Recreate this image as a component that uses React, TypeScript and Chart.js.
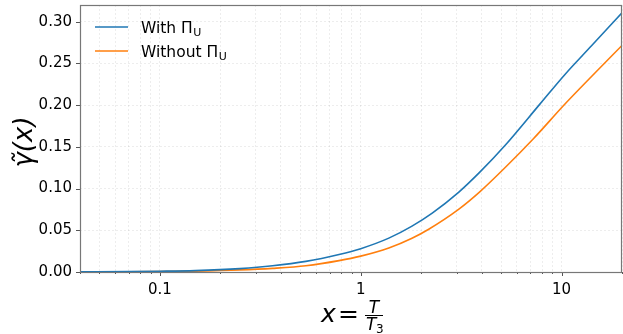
import React, { useEffect, useRef } from "react";
import { Chart, registerables } from "chart.js";

Chart.register(...registerables);

const xWith = [0.04, 0.07, 0.1, 0.15, 0.25, 0.364, 0.533, 0.78, 1.0, 1.38, 1.8, 2.27, 3.07, 3.94, 5.24, 7.8, 10.4, 14.1, 20];
const yWith = [0.0002, 0.0005, 0.0009, 0.0017, 0.0041, 0.0074, 0.0127, 0.021, 0.028, 0.0406, 0.055, 0.0706, 0.0955, 0.1203, 0.1519, 0.2012, 0.2368, 0.2711, 0.3106];
const xWithout = [0.04, 0.07, 0.1, 0.15, 0.25, 0.364, 0.533, 0.78, 1.0, 1.38, 1.8, 2.18, 3.07, 3.94, 5.24, 7.26, 10.4, 14.1, 20];
const yWithout = [0.0001, 0.00025, 0.0005, 0.0011, 0.0025, 0.0044, 0.0075, 0.0136, 0.019, 0.0288, 0.0405, 0.0513, 0.0751, 0.0967, 0.1252, 0.16, 0.2013, 0.2343, 0.2715];

const seriesNames = ["With Π", "Without Π"];
const seriesSub = "U";
const seriesColors = ["#1f77b4", "#ff7f0e"];

const xMin = 0.04;
const xMax = 20;
const xLabeled = [0.1, 1, 10];
const yTicks = [0, 0.05, 0.1, 0.15, 0.2, 0.25, 0.3];
const yMin = 0;
const yMax = 0.32;

const FONT = "'DejaVu Sans', sans-serif";

function buildLogTicks(): number[] {
  const out: number[] = [];
  for (let e = -2; e <= 1; e++) {
    for (let k = 1; k <= 9; k++) {
      const v = parseFloat((k * Math.pow(10, e)).toPrecision(6));
      if (v >= xMin - 1e-9 && v <= xMax + 1e-9) out.push(v);
    }
  }
  return out;
}

const isMajor = (v: number) => xLabeled.some((m) => Math.abs(m - v) < 1e-9);

const decor = {
  id: "decor",
  afterDraw(chart: any) {
    const { ctx, chartArea: a, scales } = chart;
    const xs = scales.x;
    const ys = scales.y;
    ctx.save();
    // tick marks
    ctx.strokeStyle = "#555";
    ctx.lineWidth = 1;
    xs.ticks.forEach((t: any) => {
      const px = Math.round(xs.getPixelForValue(t.value)) + 0.5;
      const len = isMajor(t.value) ? 4 : 2;
      ctx.beginPath();
      ctx.moveTo(px, a.bottom);
      ctx.lineTo(px, a.bottom + len);
      ctx.stroke();
    });
    ys.ticks.forEach((t: any) => {
      const py = Math.round(ys.getPixelForValue(t.value)) + 0.5;
      ctx.beginPath();
      ctx.moveTo(a.left - 4, py);
      ctx.lineTo(a.left, py);
      ctx.stroke();
    });
    // spines
    ctx.strokeStyle = "#777";
    ctx.lineWidth = 1.2;
    ctx.strokeRect(Math.round(a.left) + 0.5, Math.round(a.top) + 0.5, Math.round(a.right - a.left) - 1, Math.round(a.bottom - a.top));

    // legend
    const rows = [27, 51];
    rows.forEach((ry, i) => {
      ctx.strokeStyle = seriesColors[i];
      ctx.lineWidth = 1.6;
      ctx.beginPath();
      ctx.moveTo(a.left + 15, ry);
      ctx.lineTo(a.left + 48, ry);
      ctx.stroke();
      ctx.fillStyle = "#000";
      ctx.font = `15.5px ${FONT}`;
      ctx.textBaseline = "alphabetic";
      ctx.textAlign = "left";
      const tx = a.left + 61;
      ctx.fillText(seriesNames[i], tx, ry + 6);
      const w = ctx.measureText(seriesNames[i]).width;
      ctx.font = `11px ${FONT}`;
      ctx.fillText(seriesSub, tx + w + 0.5, ry + 9);
    });

    // x title: x = T / T3
    ctx.fillStyle = "#000";
    ctx.textBaseline = "alphabetic";
    ctx.textAlign = "left";
    ctx.font = `italic 25px ${FONT}`;
    ctx.fillText("x", 321, 322);
    ctx.font = `25px ${FONT}`;
    ctx.fillText("=", 338, 322);
    ctx.strokeStyle = "#000";
    ctx.lineWidth = 1;
    ctx.beginPath();
    ctx.moveTo(365, 315.5);
    ctx.lineTo(383, 315.5);
    ctx.stroke();
    ctx.font = `italic 17px ${FONT}`;
    ctx.textAlign = "center";
    ctx.fillText("T", 374, 313);
    ctx.textAlign = "left";
    ctx.fillText("T", 366, 330);
    ctx.font = `12px ${FONT}`;
    ctx.fillText("3", 376, 333);

    // y title
    ctx.save();
    ctx.translate(32, 142);
    ctx.rotate(-Math.PI / 2);
    ctx.textAlign = "center";
    ctx.font = `italic 26px ${FONT}`;
    ctx.fillText("γ\u0303(x)", 0, 0);
    ctx.restore();

    ctx.restore();
  },
};

const noPad = (s: any) => {
  s.paddingTop = 0;
  s.paddingBottom = 0;
  s.paddingLeft = 0;
  s.paddingRight = 0;
};

export default function App() {
  const ref = useRef<HTMLCanvasElement | null>(null);
  useEffect(() => {
    const prevMargin = document.body.style.margin;
    document.body.style.margin = "0";
    const canvas = ref.current!;
    const chart = new Chart(canvas, {
      type: "line",
      data: {
        datasets: [
          {
            label: seriesNames[0] + seriesSub,
            data: xWith.map((x, i) => ({ x, y: yWith[i] })),
            borderColor: seriesColors[0],
            borderWidth: 1.6,
            pointRadius: 0,
            cubicInterpolationMode: "monotone",
            fill: false,
          },
          {
            label: seriesNames[1] + seriesSub,
            data: xWithout.map((x, i) => ({ x, y: yWithout[i] })),
            borderColor: seriesColors[1],
            borderWidth: 1.6,
            pointRadius: 0,
            cubicInterpolationMode: "monotone",
            fill: false,
          },
        ],
      },
      options: {
        animation: false,
        responsive: false,
        devicePixelRatio: 1,
        layout: { padding: { top: 5, right: 1, left: 0, bottom: 0 } },
        plugins: { legend: { display: false }, tooltip: { enabled: false } },
        scales: {
          x: {
            type: "logarithmic",
            min: xMin,
            max: xMax,
            border: { display: false, dash: [2, 2] },
            grid: { color: "rgba(0,0,0,0.09)", lineWidth: 0.8, drawTicks: false },
            afterBuildTicks: (s: any) => {
              s.ticks = buildLogTicks().map((v) => ({ value: v, major: isMajor(v) }));
            },
            afterFit: (s: any) => {
              s.height = 62;
              noPad(s);
            },
            ticks: {
              autoSkip: false,
              maxRotation: 0,
              minRotation: 0,
              padding: 9,
              color: "#000",
              font: { family: FONT, size: 15 },
              callback: (v: any) => {
                const n = Number(v);
                if (!isMajor(n)) return "";
                return n < 1 ? n.toFixed(1) : String(Math.round(n));
              },
            },
          },
          y: {
            type: "linear",
            min: yMin,
            max: yMax,
            border: { display: false, dash: [2, 2] },
            grid: { color: "rgba(0,0,0,0.09)", lineWidth: 0.8, drawTicks: false },
            afterBuildTicks: (s: any) => {
              s.ticks = yTicks.map((v) => ({ value: v }));
            },
            afterFit: (s: any) => {
              s.width = 80;
              noPad(s);
            },
            ticks: {
              padding: 8,
              color: "#000",
              font: { family: FONT, size: 15 },
              callback: (v: any) => Number(v).toFixed(2),
            },
          },
        },
      },
      plugins: [decor],
    } as any);
    return () => {
      chart.destroy();
      document.body.style.margin = prevMargin;
    };
  }, []);
  return (
    <div style={{ width: 623, height: 334, position: "relative" }}>
      <canvas ref={ref} width={623} height={334} style={{ display: "block", width: 623, height: 334 }} />
    </div>
  );
}
